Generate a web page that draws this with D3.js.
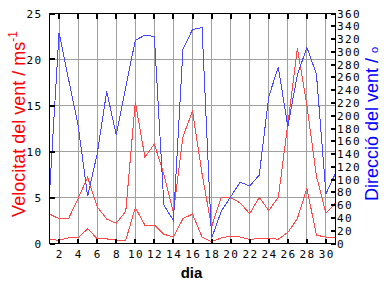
<!DOCTYPE html>
<html>
<head>
<meta charset="utf-8">
<script src="https://cdn.jsdelivr.net/npm/d3@7"></script>
<style>
  body { margin: 0; background: #fff; }
  svg { display: block; }
  .tick-label { font-family: 'DejaVu Sans Mono', monospace; font-size: 11px; letter-spacing: 1.4px; fill: #000; }
</style>
</head>
<body>
<div id="chart"></div>
<script>
// data
const days = [1, 2, 3, 4, 5, 6, 7, 8, 9, 10, 11, 12, 13, 14, 15, 16, 17, 18, 19, 20, 21, 22, 23, 24, 25, 26, 27, 28, 29, 30, 31]
const dayTicks = [2, 4, 6, 8, 10, 12, 14, 16, 18, 20, 22, 24, 26, 28, 30]
const speedTicks = [0, 5, 10, 15, 20, 25]
const dirTicks = [0, 20, 40, 60, 80, 100, 120, 140, 160, 180, 200, 220, 240, 260, 280, 300, 320, 340, 360]

// gust / max speed (m/s)
const windMax = [3.2, 2.7, 2.7, 4.9, 7.2, 4.0, 2.65, 2.2, 3.5, 15.4, 9.4, 10.8, 7.5, 3.4, 11.6, 14.4, 7.6, 1.8, 5.0, 5.0, 4.4, 3.25, 5.0, 3.6, 5.0, 13.0, 21.2, 15.0, 7.3, 3.3, 4.4]
// mean speed (m/s)
const windAvg = [0.43, 0.36, 0.6, 0.6, 1.6, 0.54, 0.5, 0.36, 0.36, 3.9, 2.0, 2.0, 1.0, 0.72, 2.7, 3.2, 0.7, 0.2, 0.6, 0.8, 0.7, 0.43, 0.55, 0.55, 0.47, 1.2, 2.7, 6.0, 0.9, 0.7, 0.6]
// direction (deg)
const windDir = [78, 330, 257, 185, 74, 140, 238, 170, 245, 318, 326, 324, 60, 36, 304, 335, 338, 8, 50, 73, 96, 90, 107, 230, 276, 183, 264, 307, 265, 78, 110]

const W = 384, H = 288
const plot = { left: 49.5, right: 335.5, top: 13.5, bottom: 243.5 }

const svg = d3.select('#chart').append('svg')
  .attr('width', W)
  .attr('height', H)

const x = d3.scaleLinear().domain([1, 31]).range([plot.left, plot.right])
const ySpeed = d3.scaleLinear().domain([0, 25]).range([plot.bottom, plot.top])
const yDir = d3.scaleLinear().domain([0, 360]).range([plot.bottom, plot.top])

const snap = v => Math.round(v - 0.5) + 0.5

// grid
const grid = svg.append('g').attr('stroke', '#a0a0a0').attr('stroke-width', 1).attr('shape-rendering', 'crispEdges')
grid.selectAll('.vg').data(dayTicks).enter().append('line')
  .attr('x1', d => snap(x(d))).attr('x2', d => snap(x(d)))
  .attr('y1', plot.top).attr('y2', plot.bottom)
grid.selectAll('.hg').data(speedTicks.slice(1, -1)).enter().append('line')
  .attr('x1', plot.left).attr('x2', plot.right)
  .attr('y1', d => snap(ySpeed(d))).attr('y2', d => snap(ySpeed(d)))

// series, drawn without anti-aliasing like the original
const line = (yScale) => d3.line().x((d, i) => x(days[i])).y(d => yScale(d))

const series = svg.append('g').attr('fill', 'none').attr('stroke-width', 1).attr('shape-rendering', 'crispEdges')
series.append('path').datum(windAvg)
  .attr('stroke', '#ff4848')
  .attr('d', line(ySpeed))
series.append('path').datum(windMax)
  .attr('stroke', '#ff4848')
  .attr('d', line(ySpeed))
series.append('path').datum(windDir)
  .attr('stroke', '#4848ff')
  .attr('d', line(yDir))

// frame
svg.append('rect')
  .attr('x', plot.left).attr('y', plot.top)
  .attr('width', plot.right - plot.left).attr('height', plot.bottom - plot.top)
  .attr('fill', 'none').attr('stroke', '#000').attr('shape-rendering', 'crispEdges')

// ticks (pointing inwards)
const ticks = svg.append('g').attr('stroke', '#000').attr('stroke-width', 2).attr('shape-rendering', 'crispEdges')
ticks.selectAll('.tb').data(dayTicks).enter().append('line')
  .attr('x1', d => Math.round(x(d))).attr('x2', d => Math.round(x(d)))
  .attr('y1', plot.bottom).attr('y2', plot.bottom - 5)
ticks.selectAll('.tt').data(dayTicks).enter().append('line')
  .attr('x1', d => Math.round(x(d))).attr('x2', d => Math.round(x(d)))
  .attr('y1', plot.top).attr('y2', plot.top + 5)
ticks.selectAll('.tl').data(speedTicks).enter().append('line')
  .attr('x1', plot.left).attr('x2', plot.left + 5)
  .attr('y1', d => Math.round(ySpeed(d))).attr('y2', d => Math.round(ySpeed(d)))
ticks.selectAll('.tr').data(dirTicks).enter().append('line')
  .attr('x1', plot.right - 5).attr('x2', plot.right)
  .attr('y1', d => Math.round(yDir(d))).attr('y2', d => Math.round(yDir(d)))

// tick labels
svg.append('g').selectAll('text').data(dayTicks).enter().append('text')
  .attr('class', 'tick-label')
  .attr('x', d => x(d) + 0.7).attr('y', 258)
  .attr('text-anchor', 'middle')
  .text(d => d)
svg.append('g').selectAll('text').data(speedTicks).enter().append('text')
  .attr('class', 'tick-label')
  .attr('x', 42.5).attr('y', d => ySpeed(d) + 4)
  .attr('text-anchor', 'end')
  .text(d => d)
svg.append('g').selectAll('text').data(dirTicks).enter().append('text')
  .attr('class', 'tick-label')
  .attr('x', 337).attr('y', d => yDir(d) + 4)
  .text(d => d)

// axis titles
svg.append('text')
  .attr('x', 191.5).attr('y', 277.5)
  .attr('text-anchor', 'middle')
  .style('font-family', "'Liberation Sans', Arial, sans-serif")
  .style('font-size', '15px').style('font-weight', 'bold')
  .text('dia')

const leftTitle = svg.append('text')
  .attr('transform', 'translate(25, 124) rotate(-90)')
  .attr('text-anchor', 'middle')
  .style('font-family', "'Liberation Sans', Arial, sans-serif")
  .style('font-size', '18px').attr('fill', '#ff0000')
leftTitle.append('tspan').text('Velocitat del vent / ms')
leftTitle.append('tspan').attr('dy', -8).style('font-size', '12px').text('-1')

const rightTitle = svg.append('text')
  .attr('transform', 'translate(378, 124) rotate(-90)')
  .attr('text-anchor', 'middle')
  .style('font-family', "'Liberation Sans', Arial, sans-serif")
  .style('font-size', '18px').attr('fill', '#0000ff')
rightTitle.append('tspan').text('Direcció del vent / ')
rightTitle.append('tspan').style('font-size', '11px').text('o')
</script>
</body>
</html>
